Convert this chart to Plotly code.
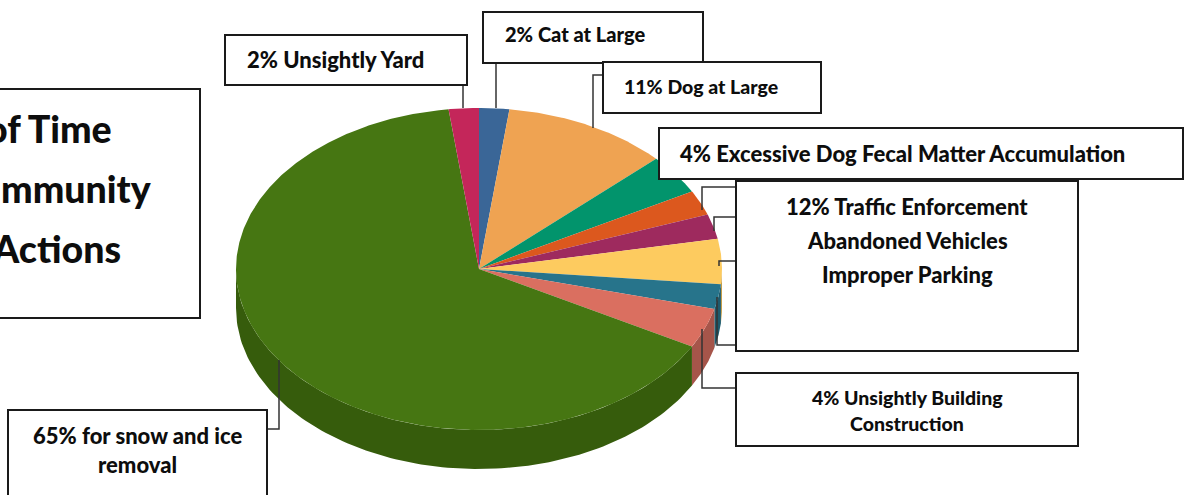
import numpy as np
import plotly.graph_objects as go

# Slice shares in percent, clockwise from twelve o'clock
slice_names = ["Cat at Large", "Dog at Large", "Excessive Dog Fecal Matter", "Traffic Enforcement",
               "Abandoned Vehicles", "Improper Parking", "Other Parking", "Unsightly Building Construction",
               "Snow and Ice Removal", "Unsightly Yard"]
slice_values = [2, 11, 4, 2.5, 2.5, 4.5, 2.5, 4, 65, 2]
slice_colors = ["#3A6697", "#EFA352", "#02946C", "#DC581E", "#9E2A5E",
                "#FDCB5F", "#27748B", "#DA6F60", "#467612", "#C4265A"]
side_colors = ["#2D4F75", "#BA7F40", "#027354", "#AB4417", "#7B2149",
               "#C59E4A", "#1E5A6C", "#A6554A", "#365C0C", "#991E46"]

# Pie projection on the page, in pixels
CX, CY, RX, RY, DEPTH = 479, 269, 243, 161, 39


def rim(theta):
    return CX + RX * np.sin(theta), CY - RY * np.cos(theta)


fig = go.Figure()
edges = np.cumsum([0] + slice_values) / 100 * 2 * np.pi

# Extruded wall: only the part of each slice that faces the viewer
for start, end, color, name in zip(edges[:-1], edges[1:], side_colors, slice_names):
    lo, hi = max(start, np.pi / 2), min(end, 3 * np.pi / 2)
    if hi <= lo:
        continue
    t = np.linspace(lo, hi, 120)
    x, y = rim(t)
    fig.add_trace(go.Scatter(x=np.r_[x, x[::-1]], y=np.r_[y, y[::-1] + DEPTH], mode="lines", fill="toself",
                             fillcolor=color, line=dict(width=0), hoverinfo="skip", name=name))

# Top face
for start, end, value, color, name in zip(edges[:-1], edges[1:], slice_values, slice_colors, slice_names):
    t = np.linspace(start, end, max(int(value * 8), 12))
    x, y = rim(t)
    fig.add_trace(go.Scatter(x=np.r_[CX, x, CX], y=np.r_[CY, y, CY], mode="lines", fill="toself",
                             fillcolor=color, line=dict(width=0), hoverinfo="text",
                             text=f"{name}: {value}%", name=name))

# Callout boxes: left, top, right, bottom
boxes = [(-20, 89, 200, 318), (225, 35, 467, 85), (483, 12, 703, 63), (603, 62, 821, 113),
         (659, 128, 1183, 179), (736, 181, 1078, 351), (736, 373, 1078, 446), (8, 410, 267, 510)]
# Leader lines from the callouts to the slices
leaders = [
    [(463, 85), (463, 108)],
    [(496, 63), (496, 108)],
    [(603, 75), (593, 75), (593, 128)],
    [(736, 187), (702, 187), (702, 210)],
    [(736, 217), (714, 217), (714, 231)],
    [(736, 261), (719, 261), (719, 266)],
    [(736, 345), (717, 345), (717, 297)],
    [(736, 388), (702, 388), (702, 329)],
    [(267, 429), (279, 429), (279, 360)],
]
shapes = []
for pts in leaders:
    path = "M " + " L ".join(f"{px} {py}" for px, py in pts)
    shapes.append(dict(type="path", path=path, line=dict(color="#333333", width=1.5), layer="above"))
for x0, y0, x1, y1 in boxes:
    shapes.append(dict(type="rect", x0=x0, y0=y0, x1=x1, y1=y1, fillcolor="white",
                       line=dict(color="#1A1A1A", width=2), layer="above"))

# Label text, anchor side, x, y, font size
labels = [
    ("of Time", "right", 114, 128, 37.5),
    ("mmunity", "right", 154, 188, 37.5),
    ("Actions", "right", 123, 248, 37.5),
    ("2% Unsightly Yard", "left", 245, 59, 22),
    ("2% Cat at Large", "left", 503, 34, 20),
    ("11% Dog at Large", "left", 622, 86, 19.5),
    ("4% Excessive Dog Fecal Matter Accumulation", "left", 678, 153, 22),
    ("12% Traffic Enforcement", "center", 907, 206, 22),
    ("Abandoned Vehicles", "center", 907, 240, 22),
    ("Improper Parking", "center", 907, 274, 22),
    ("4% Unsightly Building", "center", 907, 397, 19.5),
    ("Construction", "center", 907, 423, 19.5),
    ("65% for snow and ice", "center", 137, 435, 22),
    ("removal", "center", 137, 464, 22),
]
annotations = [
    dict(text=txt, xanchor=anchor, x=x, y=y, yanchor="middle", showarrow=False,
         font=dict(family="Lato", size=size, color="#0D0D0D", weight=900))
    for txt, anchor, x, y, size in labels
]

fig.update_layout(
    width=1185, height=495, margin=dict(l=0, r=0, t=0, b=0), showlegend=False,
    paper_bgcolor="white", plot_bgcolor="white", shapes=shapes, annotations=annotations,
    xaxis=dict(range=[0, 1185], visible=False, fixedrange=True),
    yaxis=dict(range=[495, 0], visible=False, fixedrange=True),
)
fig.write_html("out.html", config={"displayModeBar": False})
